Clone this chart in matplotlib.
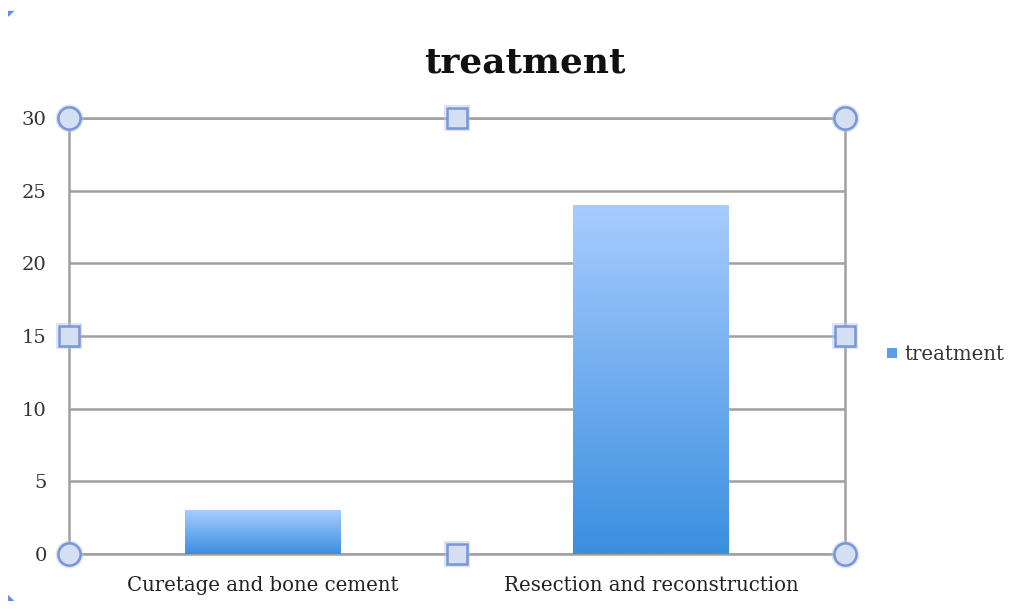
import numpy as np
import matplotlib
matplotlib.use('Agg')
import matplotlib.pyplot as plt
from matplotlib.colors import LinearSegmentedColormap
from matplotlib.patches import Rectangle

categories = ['Curetage and bone cement', 'Resection and reconstruction']
values = [3, 24]
series_name = 'treatment'
y_ticks = [0, 5, 10, 15, 20, 25, 30]

bar_cmap = LinearSegmentedColormap.from_list('bar_grad', ['#3a8fdf', '#a8ccff'])
grid_color = '#a0a0a0'
serif = ['DejaVu Serif']

fig = plt.figure(figsize=(10.26, 6.09), dpi=100)
ax = fig.add_axes([0.0673, 0.0903, 0.7563, 0.7159])

bar_w = 0.4
grad = np.linspace(0, 1, 256).reshape(-1, 1)
for i, v in enumerate(values):
    x0 = i + 0.5 - bar_w / 2
    ax.imshow(grad, cmap=bar_cmap, origin='lower', aspect='auto',
              extent=[x0, x0 + bar_w, 0, v], zorder=3, interpolation='bilinear')

ax.set_xlim(0, 2)
ax.set_ylim(0, 30)
ax.set_yticks(y_ticks)
ax.set_yticklabels([str(t) for t in y_ticks], family=serif, fontsize=14, color='#333333')
ax.set_xticks([0.5, 1.5])
ax.set_xticklabels(categories, family=serif, fontsize=14.2, color='#222222')
ax.tick_params(axis='y', length=0, pad=16)
ax.tick_params(axis='x', length=0, pad=16)
for t in y_ticks:
    ax.axhline(t, color=grid_color, lw=1.8, zorder=1)
for s in ax.spines.values():
    s.set_color(grid_color)
    s.set_linewidth(1.8)

fig.text(0.512, 0.897, 'treatment', ha='center', va='center', family=serif,
         fontsize=25.8, fontweight='bold', color='#111111')

# legend on the right
fig.patches.append(Rectangle((887 / 1026, 1 - 358 / 609), 10 / 1026, 10 / 609,
                             transform=fig.transFigure, facecolor='#5a9fe8',
                             edgecolor='none', figure=fig))
fig.text(904 / 1026, 1 - 355 / 609, series_name, ha='left', va='center',
         family=serif, fontsize=14.2, color='#333333')

# selection handles around the plot area
handle_face = '#d5dff2'
handle_edge = '#7895d8'
for (hx, hy, shape) in [(0, 30, 'o'), (2, 30, 'o'), (0, 0, 'o'), (2, 0, 'o'),
                        (1, 30, 's'), (1, 0, 's'), (0, 15, 's'), (2, 15, 's')]:
    size = 16 if shape == 'o' else 15
    ax.plot(hx, hy, marker=shape, ms=size + 2.5, markerfacecolor='none',
            markeredgecolor='#b8c9ee', mew=1.5, alpha=0.5, clip_on=False, zorder=5)
    ax.plot(hx, hy, marker=shape, ms=size,
            markerfacecolor=handle_face, markeredgecolor=handle_edge, mew=1.8,
            clip_on=False, zorder=6)

# corner marks
fig.text(0.008, 0.985, '◤', color='#5b8ee6', fontsize=6, ha='left', va='top')
fig.text(0.008, 0.012, '◣', color='#5b8ee6', fontsize=6, ha='left', va='bottom')

fig.savefig('out.png', dpi=100)
